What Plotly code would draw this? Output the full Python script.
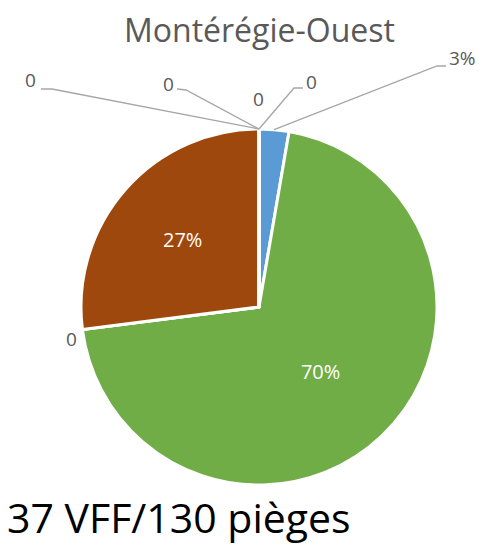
import math
import plotly.graph_objects as go

# ---- data ----
categories = ["Catégorie 1", "Catégorie 2", "Catégorie 3", "Catégorie 4",
              "Catégorie 5", "Catégorie 6", "Catégorie 7", "Catégorie 8"]
values = [1, 26, 0, 10, 0, 0, 0, 0]
colors = ["#5B9BD5", "#70AD47", "#A5A5A5", "#9E480E",
          "#FFC000", "#4472C4", "#ED7D31", "#264478"]
title_text = "Montérégie-Ouest"
footer_text = "37 VFF/130 pièges"

W, H = 488, 548
CX, CY, R = 259, 307, 178  # pie centre / radius in px

total = sum(values)
pct = [v / total for v in values]

def lbl(v, p):
    return "0" if v == 0 else f"{round(p*100)}%"

inside = [i for i, p in enumerate(pct) if p > 0.1]
texts = [lbl(values[i], pct[i]) if i in inside else "" for i in range(len(values))]

def px2paper(x, y):
    return x / W, 1 - y / H

x0, y0 = px2paper(CX - R, CY + R)
x1, y1 = px2paper(CX + R, CY - R)

fig = go.Figure(go.Pie(
    labels=categories, values=values, sort=False, direction="clockwise",
    rotation=0, marker=dict(colors=colors, line=dict(color="white", width=3)),
    text=texts, textinfo="text", textposition="inside",
    insidetextorientation="horizontal",
    textfont=dict(family="Open Sans", size=20, color="white"),
    domain=dict(x=[x0, x1], y=[y0, y1]), showlegend=False, hoverinfo="label+value+percent",
))

# outside labels (small / zero slices) with leader lines to the slice mid-angle
label_pos = {0: (462, 58), 4: (258, 99), 5: (311, 82), 6: (168, 84), 7: (30, 80)}
elbow = {0: (437, 66), 5: (294, 88), 6: (186, 90), 7: (52, 89)}
start = {0: (446, 66), 5: (303, 88), 6: (177, 89), 7: (41, 89)}
cum = 0
shapes, annotations = [], []
for i, v in enumerate(values):
    mid = (cum + v / 2) / total * 2 * math.pi
    cum += v
    if i in inside:
        continue
    px = CX + R * math.sin(mid)
    py = CY - R * math.cos(mid)
    lx, ly = label_pos.get(i, (px - 11, py + 9))
    ax, ay = px2paper(lx, ly)
    annotations.append(dict(x=ax, y=ay, xref="paper", yref="paper", text=lbl(v, pct[i]),
                            xanchor="center", yanchor="middle", showarrow=False,
                            font=dict(family="Open Sans", size=19, color="#595959")))
    if i in start:
        pts = [start[i], elbow[i], (px, py)]
        path = "M " + " L ".join(f"{px2paper(a,b)[0]:.5f},{px2paper(a,b)[1]:.5f}" for a, b in pts)
        shapes.append(dict(type="path", xref="paper", yref="paper", path=path,
                           line=dict(color="#A6A6A6", width=1.3)))

tx, ty = px2paper(259, 30)
annotations.append(dict(x=tx, y=ty, xref="paper", yref="paper", xanchor="center", yanchor="middle",
                        text=title_text, showarrow=False,
                        font=dict(family="Open Sans", size=32, color="#595959")))
fx, fy = px2paper(5, 517)
annotations.append(dict(x=fx, y=fy, xref="paper", yref="paper",
                        xanchor="left", yanchor="middle", text=footer_text, showarrow=False,
                        font=dict(family="Open Sans", size=41, color="black")))

fig.update_layout(width=W, height=H, margin=dict(l=0, r=0, t=0, b=0),
                  paper_bgcolor="white", plot_bgcolor="white",
                  shapes=shapes, annotations=annotations)
fig.write_html("out.html", config={"displayModeBar": False},
               post_script="document.body.style.margin='0px';")
